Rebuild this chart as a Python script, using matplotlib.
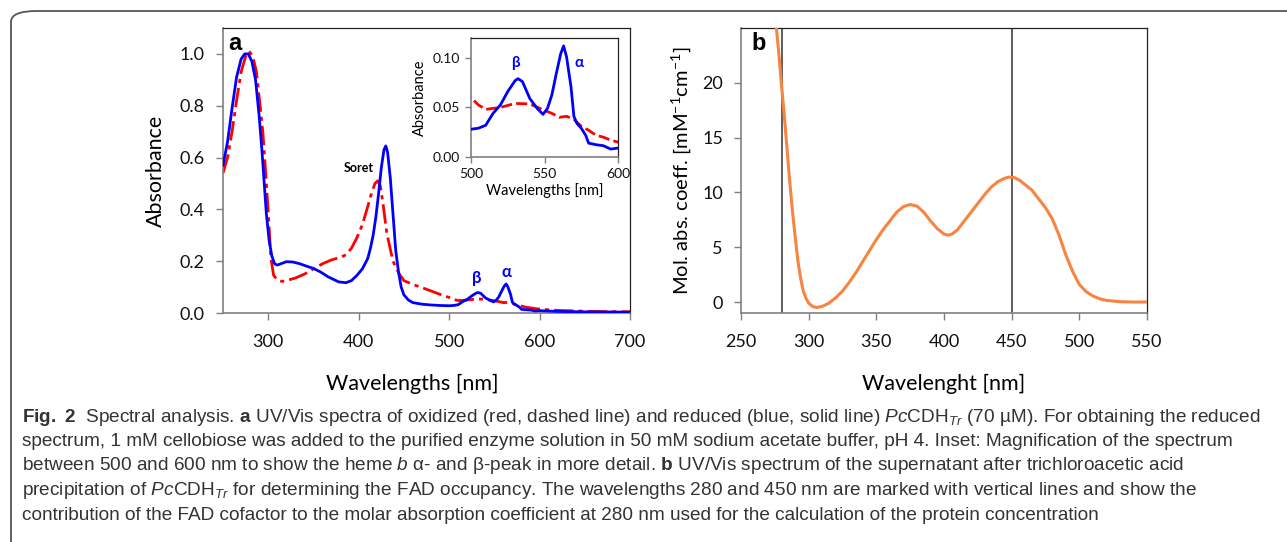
import matplotlib
matplotlib.use("Agg")
import matplotlib.pyplot as plt
from matplotlib.patches import FancyBboxPatch

# ---------------- data ----------------
# Panel a: reduced (blue, solid)
wl_reduced = [250, 255, 260, 265, 270, 274, 278, 282, 286, 290, 293, 296, 298, 301, 304, 307,
              310, 314, 320, 327, 335, 343, 350, 358, 366, 372, 378, 386, 392, 398, 404, 410,
              413, 416, 419, 422, 425, 428, 430, 432, 435, 438, 441, 444, 447, 450, 455, 460,
              470, 480, 490, 500, 505, 510, 515, 520, 525, 530, 532, 535, 540, 545, 549, 552,
              555, 558, 561, 563, 565, 568, 570, 572, 575, 578, 580, 585, 590, 595, 600, 620,
              640, 660, 680, 700]
abs_reduced = [0.57, 0.66, 0.79, 0.91, 0.98, 1.00, 1.00, 0.97, 0.90, 0.76, 0.63, 0.48, 0.38, 0.28,
               0.22, 0.19, 0.185, 0.19, 0.198, 0.197, 0.19, 0.18, 0.172, 0.158, 0.14, 0.13, 0.12,
               0.117, 0.125, 0.145, 0.17, 0.21, 0.25, 0.30, 0.37, 0.46, 0.56, 0.63, 0.645, 0.62,
               0.52, 0.38, 0.24, 0.16, 0.10, 0.07, 0.05, 0.04, 0.034, 0.031, 0.029, 0.028, 0.029,
               0.032, 0.044, 0.0525, 0.066, 0.077, 0.079, 0.076, 0.059, 0.049, 0.043, 0.049,
               0.0625, 0.084, 0.104, 0.112, 0.101, 0.071, 0.041, 0.034, 0.029, 0.022, 0.014,
               0.0124, 0.0114, 0.008, 0.009, 0.006, 0.005, 0.004, 0.004, 0.003]

# Panel a: oxidized (red, dashed)
wl_oxidized = [250, 255, 260, 265, 270, 275, 279, 283, 287, 291, 294, 297, 300, 303, 306, 310,
               315, 320, 330, 340, 350, 360, 370, 380, 386, 392, 398, 404, 410, 414, 418, 421,
               424, 427, 431, 436, 438, 442, 445, 450, 460, 470, 480, 490, 500, 505, 510, 520,
               530, 540, 550, 555, 560, 565, 570, 575, 580, 585, 590, 595, 600, 620, 640, 660,
               680, 700]
abs_oxidized = [0.54, 0.60, 0.70, 0.82, 0.93, 0.99, 1.01, 0.99, 0.93, 0.80, 0.70, 0.55, 0.39,
                0.21, 0.145, 0.128, 0.122, 0.125, 0.135, 0.15, 0.17, 0.19, 0.205, 0.215, 0.225,
                0.25, 0.29, 0.34, 0.41, 0.46, 0.50, 0.51, 0.49, 0.42, 0.31, 0.23, 0.20, 0.17,
                0.15, 0.125, 0.11, 0.098, 0.085, 0.072, 0.060, 0.0525, 0.048, 0.050, 0.054,
                0.0535, 0.047, 0.044, 0.040, 0.041, 0.038, 0.031, 0.027, 0.022, 0.020, 0.017,
                0.015, 0.010, 0.008, 0.006, 0.005, 0.005]

# Panel b: FAD molar absorption coefficient
wl_fad = [275, 276, 278, 280, 282, 284, 286, 288, 290, 292, 294, 296, 298, 300, 303, 306, 310,
          315, 320, 325, 330, 335, 340, 345, 350, 355, 360, 365, 370, 375, 380, 385, 390, 395,
          400, 403, 406, 410, 415, 420, 425, 430, 435, 440, 445, 448, 452, 456, 460, 465, 470,
          475, 480, 485, 490, 495, 500, 505, 510, 515, 520, 530, 540, 550]
eps_fad = [26.6, 25.2, 22.6, 19.7, 17.0, 14.0, 11.0, 8.3, 6.0, 3.8, 2.2, 1.0, 0.35, -0.1, -0.42,
           -0.5, -0.4, -0.1, 0.4, 1.0, 1.8, 2.7, 3.7, 4.7, 5.7, 6.6, 7.4, 8.2, 8.7, 8.9, 8.75,
           8.2, 7.4, 6.7, 6.2, 6.1, 6.2, 6.6, 7.4, 8.2, 9.0, 9.8, 10.5, 11.0, 11.3, 11.4, 11.35,
           11.1, 10.7, 10.2, 9.4, 8.6, 7.6, 6.1, 4.3, 2.8, 1.6, 0.95, 0.55, 0.3, 0.15, 0.03, 0.0,
           0.0]
marked_wl = [280, 450]

a_xticks = [300, 400, 500, 600, 700]
a_yticks = [0.0, 0.2, 0.4, 0.6, 0.8, 1.0]
inset_xticks = [500, 550, 600]
inset_yticks = [0.00, 0.05, 0.10]
b_xticks = [250, 300, 350, 400, 450, 500, 550]
b_yticks = [0, 5, 10, 15, 20]

caption_lines = [
    r"$\mathbf{Fig.\ 2}$  Spectral analysis. $\mathbf{a}$ UV/Vis spectra of oxidized (red, dashed line) and reduced (blue, solid line) $\mathit{Pc}$CDH$_{\mathit{Tr}}$ (70 µM). For obtaining the reduced",
    "spectrum, 1 mM cellobiose was added to the purified enzyme solution in 50 mM sodium acetate buffer, pH 4. Inset: Magnification of the spectrum",
    r"between 500 and 600 nm to show the heme $\mathit{b}$ α- and β-peak in more detail. $\mathbf{b}$ UV/Vis spectrum of the supernatant after trichloroacetic acid",
    r"precipitation of $\mathit{Pc}$CDH$_{\mathit{Tr}}$ for determining the FAD occupancy. The wavelengths 280 and 450 nm are marked with vertical lines and show the",
    "contribution of the FAD cofactor to the molar absorption coefficient at 280 nm used for the calculation of the protein concentration",
]

# ---------------- style ----------------
plt.rcParams['font.family'] = ['Lato', 'DejaVu Sans']
plt.rcParams['mathtext.fontset'] = 'custom'
plt.rcParams['mathtext.rm'] = 'Liberation Sans'
plt.rcParams['mathtext.it'] = 'Liberation Sans:italic'
plt.rcParams['mathtext.bf'] = 'Liberation Sans:bold'
plt.rcParams['mathtext.sf'] = 'Lato'

BLUE = '#0000FF'
RED = '#FF0000'
ORANGE = '#F7843F'
AXGREY = '#808080'

W, H = 1287, 542
fig = plt.figure(figsize=(W / 100, H / 100), dpi=100)


def px_axes(l, t, r, b):
    return fig.add_axes([l / W, 1 - b / H, (r - l) / W, (b - t) / H])


def style_axes(ax, size, tick_len=5):
    for s in ['left', 'bottom']:
        ax.spines[s].set_color(AXGREY)
        ax.spines[s].set_linewidth(1.2)
    for s in ['top', 'right']:
        ax.spines[s].set_color('#222222')
        ax.spines[s].set_linewidth(0.9)
    ax.tick_params(direction='out', length=tick_len, width=1.0, color=AXGREY,
                   labelsize=size, labelcolor='#111111', pad=4)


# ---- panel a ----
axa = px_axes(223, 28, 630, 313)
axa.plot(wl_reduced, abs_reduced, color=BLUE, lw=2.0, zorder=3)
axa.plot(wl_oxidized, abs_oxidized, color=RED, lw=2.0, dashes=(7, 1.8, 1.5, 1.8), zorder=2)
axa.set_xlim(250, 700)
axa.set_ylim(0, 1.1)
axa.set_xticks(a_xticks)
axa.set_yticks(a_yticks)
axa.set_yticklabels([f"{v:.1f}" for v in a_yticks])
style_axes(axa, 13)
axa.tick_params(axis='y', pad=8)
axa.tick_params(axis='x', pad=10)
axa.set_ylabel("Absorbance", fontsize=15.5, labelpad=10)
axa.set_xlabel("Wavelengths [nm]", fontsize=15.5, labelpad=12)
axa.xaxis.set_label_coords(0.465, -0.215)
axa.text(0.012, 0.985, "a", transform=axa.transAxes, ha='left', va='top',
         fontsize=17, fontweight='bold', family='Liberation Sans')
axa.text(400, 0.56, "Soret", ha='center', va='center', fontsize=9, fontweight='bold')
axa.text(531, 0.135, "β", ha='center', va='center', fontsize=12, fontweight='bold', color=BLUE)
axa.text(563, 0.16, "α", ha='center', va='center', fontsize=12, fontweight='bold', color=BLUE)

# ---- inset ----
axi = px_axes(471, 38, 618, 157)
axi.plot(wl_reduced, abs_reduced, color=BLUE, lw=2.0, zorder=3)
axi.plot(wl_oxidized, abs_oxidized, color=RED, lw=2.0, dashes=(4, 1.5), zorder=2)
axi.set_xlim(500, 600)
axi.set_ylim(0, 0.12)
axi.set_xticks(inset_xticks)
axi.set_yticks(inset_yticks)
axi.set_yticklabels([f"{v:.2f}" for v in inset_yticks])
style_axes(axi, 10, tick_len=4)
axi.set_ylabel("Absorbance", fontsize=10.5, labelpad=4)
axi.set_xlabel("Wavelengths [nm]", fontsize=10.5, labelpad=2)
axi.text(530, 0.0948, "β", ha='center', va='center', fontsize=11, fontweight='bold', color=BLUE)
axi.text(573.5, 0.095, "α", ha='center', va='center', fontsize=11, fontweight='bold', color=BLUE)

# ---- panel b ----
axb = px_axes(741, 28, 1147, 313)
axb.plot(wl_fad, eps_fad, color=ORANGE, lw=2.2, zorder=3)
for w in marked_wl:
    axb.axvline(w, color='#333333', lw=1.1, zorder=2)
axb.set_xlim(250, 550)
axb.set_ylim(-1, 25)
axb.set_xticks(b_xticks)
axb.set_yticks(b_yticks)
style_axes(axb, 13)
axb.tick_params(axis='y', pad=8)
axb.tick_params(axis='x', pad=10)
axb.set_ylabel(r"Mol. abs. coeff. [mM$^{\mathsf{-1}}$cm$^{\mathsf{-1}}$]", fontsize=14.5, labelpad=6)
axb.set_xlabel("Wavelenght [nm]", fontsize=15.5, labelpad=12)
axb.xaxis.set_label_coords(0.5, -0.215)
axb.text(0.025, 0.985, "b", transform=axb.transAxes, ha='left', va='top',
         fontsize=17, fontweight='bold', family='Liberation Sans')

# ---- border frame (top and left with rounded corner) ----
frame = FancyBboxPatch((11 / W, -0.2), 1.2, 1 - 11 / H + 0.2,
                       boxstyle="round,pad=0,rounding_size=0.02",
                       transform=fig.transFigure, fill=False, edgecolor='#555555',
                       lw=1.3, clip_on=False)
fig.add_artist(frame)

# ---- caption: one size for all lines, fitted to the first two lines' widths ----
x0, y0 = 22, 417
target = (1237 - x0) + (1265 - x0)
renderer = fig.canvas.get_renderer()
cap_texts = []
for i, line in enumerate(caption_lines):
    t = fig.text(x0 / W, 1 - (y0 + i * 24.5) / H, line, ha='left', va='center',
                 fontsize=12, family='Liberation Sans', color='#333333')
    cap_texts.append(t)
measured = sum(t.get_window_extent(renderer).width for t in cap_texts[:2])
size = 12 * target / measured
for t in cap_texts:
    t.set_fontsize(size)

fig.savefig("out.png", dpi=100)
